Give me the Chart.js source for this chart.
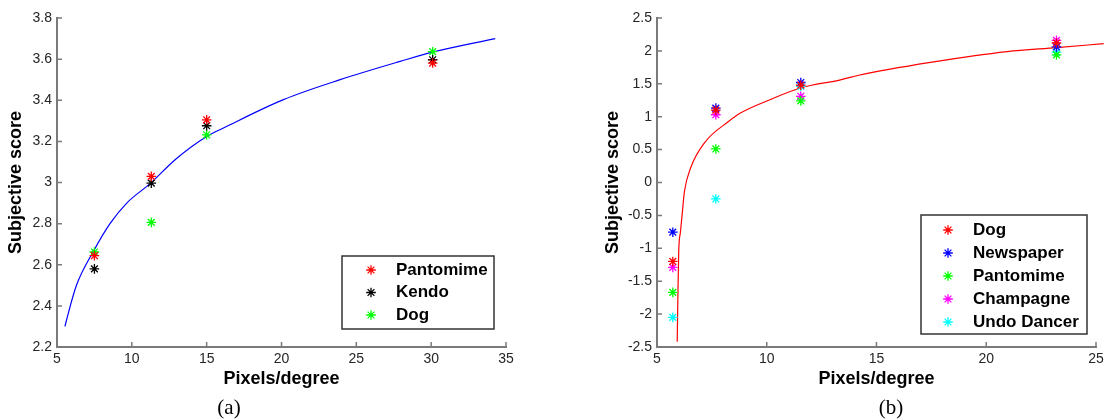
<!DOCTYPE html>
<html>
<head>
<meta charset="utf-8">
<script src="https://cdn.jsdelivr.net/npm/chart.js@4.4.0/dist/chart.umd.min.js"></script>
<style>
  body { margin: 0; background: #fff; width: 1114px; height: 419px; position: relative; overflow: hidden; }
  canvas { position: absolute; top: 0; }
  #chartA { left: 0; }
  #chartB { left: 557px; }
  .cap { position: absolute; top: 395px; width: 60px; text-align: center; line-height: 24px;
         font-family: "Liberation Serif", "Times New Roman", serif; font-size: 21px; color: #000; }
</style>
</head>
<body>
<canvas id="chartA" width="557" height="419"></canvas>
<canvas id="chartB" width="557" height="419"></canvas>
<div class="cap" style="left:199px">(a)</div>
<div class="cap" style="left:861px">(b)</div>
<script>
// panel (a)
const xA = [7.5, 11.3, 15.0, 30.1];
const pantomimeA = [2.644, 3.03, 3.305, 3.581];
const kendoA = [2.58, 2.997, 3.276, 3.597];
const dogA = [2.662, 2.806, 3.232, 3.636];
const fitAX = [5.53, 5.65, 6.3, 7.47, 8.54, 9.66, 11.26, 12.89, 15.0, 16.12, 20.13, 23.92, 27.93, 30.15, 34.28];
const fitAY = [2.30, 2.335, 2.50, 2.67, 2.80, 2.90, 2.997, 3.111, 3.224, 3.265, 3.403, 3.50, 3.589, 3.635, 3.70];
const xTicksA = [5, 10, 15, 20, 25, 30, 35];
const yTicksA = [2.2, 2.4, 2.6, 2.8, 3, 3.2, 3.4, 3.6, 3.8];

// panel (b)
const xB = [5.72, 7.68, 11.55, 23.2];
const dogB = [-1.20, 1.10, 1.48, 2.12];
const newspaperB = [-0.755, 1.13, 1.52, 2.06];
const pantomimeB = [-1.67, 0.51, 1.24, 1.94];
const champagneB = [-1.29, 1.03, 1.31, 2.16];
const undoDancerB = [-2.05, -0.25, 1.46, 1.98];
const fitBX = [5.92, 5.95, 5.99, 6.07, 6.15, 6.25, 6.53, 7.18, 8.27, 8.80, 10.09, 11.53, 13.36, 14.19, 17.45, 20.95, 23.22, 25.35];
const fitBY = [-2.42, -1.76, -1.05, -0.745, -0.47, -0.137, 0.22, 0.61, 0.93, 1.055, 1.25, 1.436, 1.56, 1.63, 1.825, 1.99, 2.05, 2.11];
const xTicksB = [5, 10, 15, 20, 25];
const yTicksB = [-2.5, -2, -1.5, -1, -0.5, 0, 0.5, 1, 1.5, 2, 2.5];

Chart.defaults.font.family = '"Liberation Sans", Arial, sans-serif';

const axisGray = '#7a7a7a';
const pts = (xs, ys) => xs.map((x, i) => ({ x: x, y: ys[i] }));
const fmt = v => String(Math.round(v * 10) / 10);

function drawStar(ctx, x, y, r, color) {
    const d = r * 0.7071;
    ctx.strokeStyle = color;
    ctx.lineWidth = 1.3;
    ctx.beginPath();
    ctx.moveTo(x - r, y); ctx.lineTo(x + r, y);
    ctx.moveTo(x, y - r); ctx.lineTo(x, y + r);
    ctx.moveTo(x - d, y - d); ctx.lineTo(x + d, y + d);
    ctx.moveTo(x - d, y + d); ctx.lineTo(x + d, y - d);
    ctx.stroke();
}

// matlab style ticks pointing into the plot
const innerTicks = {
    id: 'innerTicks',
    afterDraw(chart) {
        const { ctx, chartArea: a, scales: { x, y } } = chart;
        ctx.save();
        ctx.strokeStyle = axisGray;
        ctx.lineWidth = 1.5;
        ctx.beginPath();
        x.ticks.forEach(t => {
            const px = x.getPixelForValue(t.value);
            ctx.moveTo(px, a.bottom); ctx.lineTo(px, a.bottom - 5);
        });
        y.ticks.forEach(t => {
            const py = y.getPixelForValue(t.value);
            ctx.moveTo(a.left, py); ctx.lineTo(a.left + 5, py);
        });
        ctx.stroke();
        ctx.restore();
    }
};

// boxed legend inside the plot
const boxLegend = {
    id: 'boxLegend',
    afterDraw(chart, args, o) {
        const ctx = chart.ctx;
        ctx.save();
        ctx.fillStyle = '#fff';
        ctx.fillRect(o.left, o.top, o.width, o.height);
        ctx.strokeStyle = '#333';
        ctx.lineWidth = 1.5;
        ctx.strokeRect(o.left, o.top, o.width, o.height);
        ctx.font = 'bold 17px "Liberation Sans", Arial, sans-serif';
        ctx.textBaseline = 'middle';
        chart.data.datasets.filter(d => !d.showLine).forEach((d, i) => {
            const y = o.firstRow + i * o.rowGap;
            drawStar(ctx, o.markX, y, 4.8, d.borderColor);
            ctx.fillStyle = '#000';
            ctx.fillText(d.label, o.textX, y);
        });
        ctx.restore();
    }
};

function markers(label, xs, ys, color) {
    return {
        label: label,
        data: pts(xs, ys),
        borderColor: color,
        backgroundColor: color,
        pointStyle: 'star',
        pointRadius: 4.8,
        borderWidth: 1.3,
        pointBorderWidth: 1.3
    };
}

function fitLine(xs, ys, color) {
    return {
        label: 'fit',
        data: pts(xs, ys),
        showLine: true,
        borderColor: color,
        borderWidth: 1.2,
        pointRadius: 0,
        cubicInterpolationMode: 'monotone',
        clip: false
    };
}

function axis(min, max, tickVals, fitSize, isX, titlePad) {
    return {
        type: 'linear',
        min: min,
        max: max,
        afterBuildTicks: s => { s.ticks = tickVals.map(v => ({ value: v })); },
        afterFit: s => { if (isX) s.height = fitSize; else s.width = fitSize; },
        grid: { display: false, drawTicks: false },
        border: { display: true, color: axisGray, width: 2 },
        ticks: {
            padding: isX ? 4 : 5,
            color: '#262626',
            font: { size: 14 },
            maxRotation: 0,
            autoSkip: false,
            callback: v => fmt(v)
        },
        title: {
            display: true,
            text: isX ? 'Pixels/degree' : 'Subjective score',
            color: '#000',
            font: { size: 18, weight: 'bold' },
            padding: titlePad
        }
    };
}

new Chart(document.getElementById('chartA'), {
    type: 'scatter',
    data: {
        datasets: [
            markers('Pantomime', xA, pantomimeA, '#ff0000'),
            markers('Kendo', xA, kendoA, '#000000'),
            markers('Dog', xA, dogA, '#00ff00'),
            fitLine(fitAX, fitAY, '#0000ff')
        ]
    },
    options: {
        responsive: false,
        animation: false,
        events: [],
        layout: { padding: { left: 0, top: 18, right: 51, bottom: 0 } },
        scales: {
            x: axis(5, 35, xTicksA, 72, true, { top: 0, bottom: 29 }),
            y: axis(2.2, 3.8, yTicksA, 57, false, { top: 5, bottom: 0 })
        },
        plugins: {
            legend: { display: false },
            tooltip: { enabled: false },
            boxLegend: { left: 342, top: 256, width: 152, height: 73, firstRow: 270, rowGap: 22.5, markX: 371, textX: 396 }
        }
    },
    plugins: [innerTicks, boxLegend]
});

new Chart(document.getElementById('chartB'), {
    type: 'scatter',
    data: {
        datasets: [
            markers('Dog', xB, dogB, '#ff0000'),
            markers('Newspaper', xB, newspaperB, '#0000ff'),
            markers('Pantomime', xB, pantomimeB, '#00ff00'),
            markers('Champagne', xB, champagneB, '#ff00ff'),
            markers('Undo Dancer', xB, undoDancerB, '#00ffff'),
            fitLine(fitBX, fitBY, '#ff0000')
        ]
    },
    options: {
        responsive: false,
        animation: false,
        events: [],
        layout: { padding: { left: 0, top: 18, right: 18, bottom: 0 } },
        scales: {
            x: axis(5, 25, xTicksB, 72, true, { top: 0, bottom: 29 }),
            y: axis(-2.5, 2.5, yTicksB, 100, false, { top: 45, bottom: 0 })
        },
        plugins: {
            legend: { display: false },
            tooltip: { enabled: false },
            boxLegend: { left: 364, top: 215, width: 166, height: 119, firstRow: 230, rowGap: 23, markX: 391, textX: 416 }
        }
    },
    plugins: [innerTicks, boxLegend]
});
</script>
</body>
</html>
